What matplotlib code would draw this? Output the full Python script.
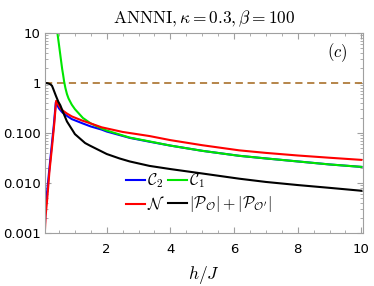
import numpy as np
import matplotlib.pyplot as plt
from matplotlib.ticker import FixedLocator, MultipleLocator, LogLocator, NullFormatter

plt.rcParams["mathtext.fontset"] = "cm"
plt.rcParams["font.family"] = "DejaVu Sans"

# Data (h/J and values)
h_N = [0.055, 0.08, 0.13, 0.2, 0.28, 0.35, 0.41, 0.5, 0.59, 0.75, 0.9, 1.22, 1.5,
       1.84, 2.5, 3.34, 4, 5, 6.16, 7, 8, 9, 10]
N = [0.001, 0.0022, 0.0048, 0.017, 0.052, 0.15, 0.44, 0.35, 0.29, 0.245, 0.215, 0.178,
     0.155, 0.13, 0.105, 0.087, 0.072, 0.057, 0.045, 0.040, 0.0355, 0.032, 0.029]

h_C2 = [0.05, 0.07, 0.12, 0.2, 0.27, 0.34, 0.40, 0.5, 0.6, 0.75, 0.9, 1.25, 1.5,
        1.84, 2.0, 2.72, 3.34, 4, 5, 6.16, 7, 8, 9, 10]
C2 = [0.001, 0.0025, 0.006, 0.02, 0.055, 0.15, 0.41, 0.31, 0.26, 0.22, 0.19, 0.155,
      0.135, 0.117, 0.107, 0.08, 0.067, 0.056, 0.044, 0.035, 0.031, 0.027, 0.0235, 0.021]

h_C1 = [0.45, 0.5, 0.55, 0.6, 0.63, 0.66, 0.7, 0.75, 0.8, 0.9, 1.0, 1.25, 1.5, 1.84,
        2.0, 2.72, 3.34, 4, 5, 6.16, 7, 8, 9, 10]
C1 = [10, 5.8, 3.3, 1.9, 1.45, 1.08, 0.8, 0.6, 0.49, 0.37, 0.3, 0.2, 0.155, 0.123,
      0.112, 0.081, 0.068, 0.056, 0.044, 0.035, 0.031, 0.027, 0.0235, 0.021]

h_P = [0.05, 0.12, 0.16, 0.2, 0.24, 0.28, 0.32, 0.4, 0.48, 0.54, 0.64, 0.75, 0.95,
       1.0, 1.32, 1.47, 2.0, 2.4, 2.72, 3.34, 4, 5, 6.16, 7, 8, 9, 10]
P = [1.0, 0.995, 0.98, 0.96, 0.93, 0.88, 0.76, 0.56, 0.42, 0.36, 0.25, 0.17, 0.107,
     0.095, 0.063, 0.056, 0.038, 0.031, 0.027, 0.022, 0.019, 0.0155, 0.0122, 0.0105,
     0.0091, 0.0080, 0.0070]

y_ticks = [0.001, 0.01, 0.1, 1, 10]
y_labels = ["0.001", "0.010", "0.100", "1", "10"]
x_ticks = [2, 4, 6, 8, 10]

fig = plt.figure(figsize=(3.74, 2.86), dpi=100)
ax = fig.add_axes([0.1203, 0.1853, 0.8503, 0.6993])

ax.axhline(1, color="#b07c3c", lw=1.3, dashes=(4, 2.6))
l_c2, = ax.plot(h_C2, C2, color="#0000ff", lw=1.5, label=r"$\mathcal{C}_2$")
l_c1, = ax.plot(h_C1, C1, color="#00e600", lw=1.5, label=r"$\mathcal{C}_1$")
l_n, = ax.plot(h_N, N, color="#ff0000", lw=1.5, label=r"$\mathcal{N}$")
l_p, = ax.plot(h_P, P, color="black", lw=1.5,
               label=r"$|\mathcal{P}_{\mathcal{O}}|+|\mathcal{P}_{\mathcal{O}'}|$")

ax.set_yscale("log")
ax.set_xlim(0.06, 10.05)
ax.set_ylim(0.001, 10)
ax.yaxis.set_major_locator(FixedLocator(y_ticks))
ax.set_yticklabels(y_labels)
ax.yaxis.set_minor_locator(LogLocator(base=10, subs=np.arange(2, 10)))
ax.yaxis.set_minor_formatter(NullFormatter())
ax.set_xticks(x_ticks)
ax.xaxis.set_minor_locator(MultipleLocator(0.5))

for s in ax.spines.values():
    s.set_color("#a0a0a0")
    s.set_linewidth(0.8)
ax.tick_params(which="both", direction="in", top=True, right=True, color="#a0a0a0",
               labelsize=9.5)
ax.tick_params(which="major", length=4, width=0.8)
ax.tick_params(which="minor", length=2, width=0.6)
ax.tick_params(axis="x", pad=7)
ax.tick_params(axis="y", pad=3)

ax.set_title(r"$\mathrm{ANNNI}, \kappa=0.3, \beta=100$", fontsize=12.5, pad=7)
ax.set_xlabel(r"$h/J$", fontsize=12.5, labelpad=6)
ax.text(0.918, 0.9, r"$(c)$", transform=ax.transAxes, fontsize=12,
        ha="center", va="center")

# column-first fill, so order handles to read C2, C1 / N, P row-wise
ax.legend([l_c2, l_n, l_c1, l_p], [l_c2.get_label(), l_n.get_label(),
          l_c1.get_label(), l_p.get_label()],
          ncol=2, loc="center left", bbox_to_anchor=(0.255, 0.2), frameon=False,
          fontsize=11.5, handlelength=1.2, handletextpad=0.1, columnspacing=0.2,
          labelspacing=0.25, borderaxespad=0, borderpad=0)

fig.savefig("out.png", dpi=100)
